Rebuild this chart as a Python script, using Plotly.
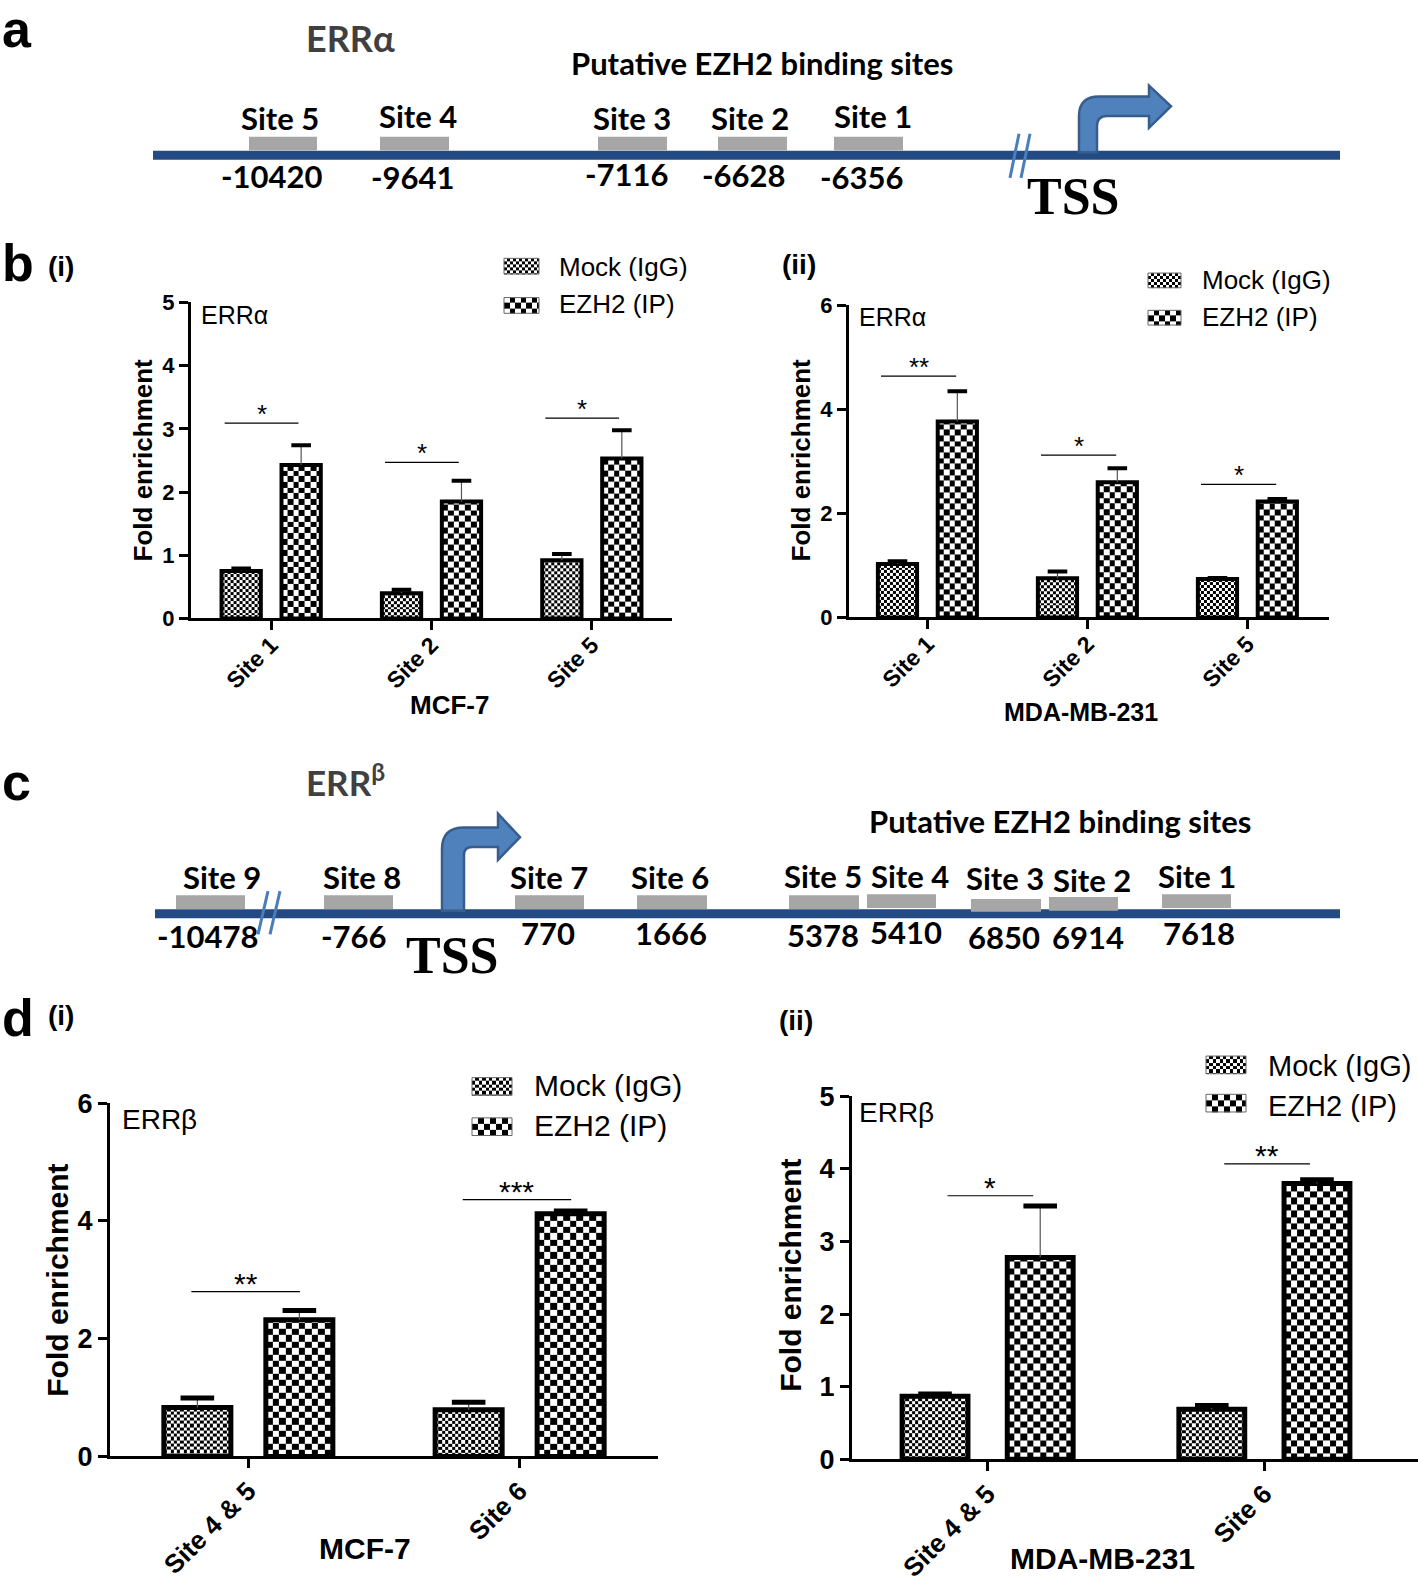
import numpy as np
import plotly.graph_objects as go

W, H = 1418, 1596
ARIAL = "Liberation Sans"
CAL = "Lato"
SERIF = "Liberation Serif"
LINE_BLUE = "#234a82"
BOX_GRAY = "#a6a6a6"
ARROW_FILL = "#4f81bd"
ARROW_EDGE = "#385d8a"

# ---------------- data ----------------
# Panel a (ERRalpha promoter)
erra_site_labels = ["Site 5", "Site 4", "Site 3", "Site 2", "Site 1"]
erra_site_coords = ["-10420", "-9641", "-7116", "-6628", "-6356"]
# Panel c (ERRbeta promoter)
errb_site_labels = ["Site 9", "Site 8", "Site 7", "Site 6", "Site 5",
                    "Site 4", "Site 3", "Site 2", "Site 1"]
errb_site_coords = ["-10478", "-766", "770", "1666", "5378",
                    "5410", "6850", "6914", "7618"]

series_names = ["Mock (IgG)", "EZH2 (IP)"]

# Panel b(i): MCF-7, ERRalpha
sites_b = ["Site 1", "Site 2", "Site 5"]
mcf7_b_mock = [0.75, 0.40, 0.92]
mcf7_b_mock_err = [0.04, 0.055, 0.10]
mcf7_b_ezh2 = [2.43, 1.85, 2.53]
mcf7_b_ezh2_err = [0.31, 0.33, 0.45]
mcf7_b_sig = [3.09, 2.47, 3.17]
mcf7_b_stars = ["*", "*", "*"]

# Panel b(ii): MDA-MB-231, ERRalpha
mda_b_mock = [1.03, 0.755, 0.74]
mda_b_mock_err = [0.05, 0.13, 0.02]
mda_b_ezh2 = [3.77, 2.60, 2.23]
mda_b_ezh2_err = [0.58, 0.27, 0.05]
mda_b_sig = [4.64, 3.12, 2.56]
mda_b_stars = ["**", "*", "*"]

# Panel d(i): MCF-7, ERRbeta
sites_d = ["Site 4 & 5", "Site 6"]
mcf7_d_mock = [0.83, 0.79]
mcf7_d_mock_err = [0.16, 0.13]
mcf7_d_ezh2 = [2.32, 4.12]
mcf7_d_ezh2_err = [0.16, 0.05]
mcf7_d_sig = [2.80, 4.36]
mcf7_d_stars = ["**", "***"]

# Panel d(ii): MDA-MB-231, ERRbeta
mda_d_mock = [0.87, 0.69]
mda_d_mock_err = [0.03, 0.05]
mda_d_ezh2 = [2.78, 3.80]
mda_d_ezh2_err = [0.71, 0.05]
mda_d_sig = [3.63, 4.07]
mda_d_stars = ["*", "**"]

# ---------------- helpers ----------------
def px(x, y):
    return x / W, 1 - y / H


def ann(text, x, y, size, family=ARIAL, bold=False, color="black",
        xanchor="center", yanchor="middle", angle=0):
    xp, yp = px(x, y)
    return dict(text=text, x=xp, y=yp, xref="paper", yref="paper",
                showarrow=False, textangle=angle,
                font=dict(family=family, size=size, color=color,
                          weight="bold" if bold else "normal"),
                xanchor=xanchor, yanchor=yanchor)


def checker(x0, x1, y0, y1, cx, cy, xa, ya):
    xs = list(np.arange(x0, x1, cx))
    if x1 - xs[-1] < cx * 0.15 and len(xs) > 1:
        xs = xs[:-1]
    xs.append(x1)
    ys = list(np.arange(y0, y1, cy))
    if y1 - ys[-1] < cy * 0.15 and len(ys) > 1:
        ys = ys[:-1]
    ys.append(y1)
    z = [[(i + j) % 2 for j in range(len(xs) - 1)] for i in range(len(ys) - 1)]
    return go.Heatmap(x=xs, y=ys, z=z, xaxis=xa, yaxis=ya,
                      colorscale=[[0, "white"], [1, "black"]], zmin=0, zmax=1,
                      showscale=False, hoverinfo="skip", zsmooth=False)


fig = go.Figure()
annotations = []
shapes = []

panels = [
    dict(k="", dom_x=(191, 672), dom_y=(293, 615), xr=(-0.5, 2.5), yr=(0, 5),
         yticks=[0, 1, 2, 3, 4, 5], cats=sites_b,
         mock=mcf7_b_mock, mock_err=mcf7_b_mock_err, ezh2=mcf7_b_ezh2,
         ezh2_err=mcf7_b_ezh2_err, sig=mcf7_b_sig, stars=mcf7_b_stars,
         off=0.187, w=0.245, lw=4, capw=14, capt=4, ce=5.8, cm=3.0,
         sl=-0.29, sr=0.17, tfs=22, xfs=23, sfs=26, sshift=-8, tls=-8),
    dict(k="2", dom_x=(849, 1329), dom_y=(296, 614), xr=(-0.49, 2.51), yr=(0, 6),
         yticks=[0, 2, 4, 6], cats=sites_b,
         mock=mda_b_mock, mock_err=mda_b_mock_err, ezh2=mda_b_ezh2,
         ezh2_err=mda_b_ezh2_err, sig=mda_b_sig, stars=mda_b_stars,
         off=0.187, w=0.245, lw=4, capw=14, capt=4, ce=5.8, cm=3.0,
         sl=-0.29, sr=0.18, tfs=22, xfs=23, sfs=26, sshift=-8, tls=-8),
    dict(k="3", dom_x=(110, 658), dom_y=(1109, 1469), xr=(-0.51, 1.51), yr=(0, 6),
         yticks=[0, 2, 4, 6], cats=sites_d,
         mock=mcf7_d_mock, mock_err=mcf7_d_mock_err, ezh2=mcf7_d_ezh2,
         ezh2_err=mcf7_d_ezh2_err, sig=mcf7_d_sig, stars=mcf7_d_stars,
         off=0.188, w=0.247, lw=5, capw=24, capt=5, ce=6.5, cm=3.3,
         sl=-0.21, sr=0.19, tfs=27, xfs=26, sfs=30, sshift=-10, tls=-3),
    dict(k="4", dom_x=(852, 1418), dom_y=(1102, 1472), xr=(-0.49, 1.555), yr=(0, 5),
         yticks=[0, 1, 2, 3, 4, 5], cats=sites_d,
         mock=mda_d_mock, mock_err=mda_d_mock_err, ezh2=mda_d_ezh2,
         ezh2_err=mda_d_ezh2_err, sig=mda_d_sig, stars=mda_d_stars,
         off=0.19, w=0.238, lw=5, capw=24, capt=5, ce=6.5, cm=3.3,
         sl=-0.145, sr=0.165, tfs=27, xfs=26, sfs=30, sshift=-10, tls=-3),
]

layout_axes = {}
for p in panels:
    k = p["k"]
    xa, ya = "x" + k, "y" + k
    ppx = (p["dom_x"][1] - p["dom_x"][0]) / (p["xr"][1] - p["xr"][0])
    ppy = (p["dom_y"][1] - p["dom_y"][0]) / (p["yr"][1] - p["yr"][0])
    n = len(p["cats"])
    idx = list(range(n))
    for vals, errs, sign, cell in ((p["mock"], p["mock_err"], -1, p["cm"]),
                                   (p["ezh2"], p["ezh2_err"], 1, p["ce"])):
        xs = [i + sign * p["off"] for i in idx]
        for xc, v in zip(xs, vals):
            fig.add_trace(checker(xc - p["w"] / 2, xc + p["w"] / 2, 0, v,
                                  cell / ppx, cell / ppy, xa, ya))
        fig.add_trace(go.Bar(x=xs, y=vals, width=p["w"], xaxis=xa, yaxis=ya,
                             marker=dict(color="rgba(0,0,0,0)",
                                         line=dict(color="black", width=p["lw"])),
                             error_y=dict(type="data", array=errs,
                                          arrayminus=[0] * n, symmetric=False,
                                          color="#555555", thickness=1.2, width=0),
                             showlegend=False, hoverinfo="skip"))
        fig.add_trace(go.Scatter(x=xs, y=[v + e for v, e in zip(vals, errs)],
                                 xaxis=xa, yaxis=ya, mode="markers",
                                 marker=dict(symbol="line-ew", size=p["capw"],
                                             color="black",
                                             line=dict(color="black", width=p["capt"])),
                                 showlegend=False, hoverinfo="skip"))
    # significance lines
    lx, ly = [], []
    for i, s in zip(idx, p["sig"]):
        lx += [i + p["sl"], i + p["sr"], None]
        ly += [s, s, None]
    fig.add_trace(go.Scatter(x=lx, y=ly, xaxis=xa, yaxis=ya, mode="lines",
                             line=dict(color="black", width=1.2),
                             showlegend=False, hoverinfo="skip"))
    for i, s, st in zip(idx, p["sig"], p["stars"]):
        annotations.append(dict(text=st, x=i + (p["sl"] + p["sr"]) / 2, y=s,
                                xref=xa, yref=ya, showarrow=False,
                                xanchor="center", yanchor="bottom", yshift=p["sshift"],
                                font=dict(family=ARIAL, size=p["sfs"], color="black")))
    axk = k if k else ""
    layout_axes["xaxis" + axk] = dict(
        domain=[p["dom_x"][0] / W, p["dom_x"][1] / W], range=list(p["xr"]),
        anchor=ya, tickvals=idx, ticktext=p["cats"], tickangle=-45,
        showline=True, linewidth=3, linecolor="black", ticks="outside",
        ticklen=9, tickwidth=3, tickcolor="black", showgrid=False, zeroline=False,
        ticklabelstandoff=p["tls"],
        tickfont=dict(family=ARIAL, size=p["xfs"], color="black", weight="bold"),
        fixedrange=True)
    layout_axes["yaxis" + axk] = dict(
        domain=[1 - p["dom_y"][1] / H, 1 - p["dom_y"][0] / H], range=list(p["yr"]),
        anchor=xa, tickvals=p["yticks"], showline=True, linewidth=3,
        linecolor="black", ticks="outside", ticklen=9, tickwidth=3,
        tickcolor="black", showgrid=False, zeroline=False,
        tickfont=dict(family=ARIAL, size=p["tfs"], color="black", weight="bold"),
        fixedrange=True)

# ---------------- canvas axis (pixel coordinates) ----------------
layout_axes["xaxis5"] = dict(domain=[0, 1], range=[0, W], visible=False,
                             anchor="y5", fixedrange=True)
layout_axes["yaxis5"] = dict(domain=[0, 1], range=[H, 0], visible=False,
                             anchor="x5", fixedrange=True)

# legends: swatch boxes + text
legends = [
    dict(sx=(504, 539), sy=[(248, 264), (288, 304)], tx=557, ty=[257, 295], fs=26, cm=3.0, ce=5.5),
    dict(sx=(1148, 1181), sy=[(263, 278), (301, 316)], tx=1200, ty=[270, 308], fs=26, cm=3.0, ce=5.5),
    dict(sx=(472, 512), sy=[(1083, 1101), (1124, 1142)], tx=532, ty=[1091, 1132], fs=30, cm=3.4, ce=6.0),
    dict(sx=(1206, 1246), sy=[(1061, 1079), (1100, 1118)], tx=1266, ty=[1071, 1112], fs=29, cm=3.4, ce=6.0),
]
for lg in legends:
    for j, name in enumerate(series_names):
        y0, y1 = lg["sy"][j]
        cell = lg["cm"] if j == 0 else lg["ce"]
        fig.add_trace(checker(lg["sx"][0], lg["sx"][1], y0, y1, cell, cell, "x5", "y5"))
        shapes.append(dict(type="rect", xref="x5", yref="y5", x0=lg["sx"][0], x1=lg["sx"][1],
                           y0=y0, y1=y1, line=dict(color="#666666", width=1)))
        annotations.append(ann(name, lg["tx"], lg["ty"][j], lg["fs"], xanchor="left"))

# ---------------- panel a diagram ----------------
a_line = dict(x0=153, x1=1340, y=143)
a_box_x = [(249, 317), (380, 449), (598, 667), (718, 787), (834, 903)]
a_box_y = (124, 138)
a_label_x = [280, 418, 632, 750, 873]
a_label_y = [105, 103, 105, 105, 103]
a_coord_x = [271, 412, 626, 743, 861]
a_coord_y = [164, 165, 162, 163, 165]

shapes.append(dict(type="line", xref="x5", yref="y5", x0=a_line["x0"], x1=a_line["x1"],
                   y0=a_line["y"], y1=a_line["y"], line=dict(color=LINE_BLUE, width=9)))
for (bx0, bx1), lab, lx_, ly_, crd, cx_, cy_ in zip(a_box_x, erra_site_labels, a_label_x,
                                                     a_label_y, erra_site_coords, a_coord_x, a_coord_y):
    shapes.append(dict(type="rect", xref="x5", yref="y5", x0=bx0, x1=bx1,
                       y0=a_box_y[0], y1=a_box_y[1], fillcolor=BOX_GRAY, line=dict(width=0)))
    annotations.append(ann(lab, lx_, ly_, 31, family=CAL, bold=True))
    annotations.append(ann(crd, cx_, cy_, 31, family=CAL, bold=True))
# break marks
for bx in (1010, 1021):
    shapes.append(dict(type="line", xref="x5", yref="y5", x0=bx, y0=166, x1=bx + 9, y1=121,
                       line=dict(color="#4a7ebb", width=3)))
# TSS arrow
shapes.append(dict(type="path", xref="x5", yref="y5",
                   path="M1079,140 L1079,103 Q1079,83 1099,83 L1149,83 L1149,72 L1171,93 "
                        "L1149,115 L1149,103 L1107,103 Q1097,103 1097,113 L1097,140 Z",
                   fillcolor=ARROW_FILL, line=dict(color=ARROW_EDGE, width=2.5)))
annotations.append(ann("TSS", 1073, 185, 52, family=SERIF, bold=True))
annotations.append(ann("ERRα", 350, 23, 36, family=CAL, bold=True, color="#404040"))
annotations.append(ann("Putative EZH2 binding sites", 762, 49, 31, family=CAL, bold=True))
annotations.append(ann("a", 0, 14, 52, bold=True, xanchor="left"))

# ---------------- panel c diagram ----------------
c_line = dict(x0=155, x1=1340, y=916)
c_box_x = [(176, 245), (324, 393), (515, 584), (637, 707), (789, 859),
           (867, 936), (971, 1041), (1049, 1118), (1162, 1231)]
c_box_y = [(897, 911), (897, 911), (897, 911), (897, 911), (897, 911),
           (896, 910), (901, 914), (899, 913), (896, 910)]
c_label_x = [222, 362, 549, 670, 823, 910, 1005, 1092, 1197]
c_label_y = [879, 879, 879, 879, 878, 878, 880, 882, 878]
c_coord_x = [207, 354, 548, 671, 823, 906, 1004, 1088, 1199]
c_coord_y = [939, 939, 936, 936, 938, 935, 940, 940, 936]

shapes.append(dict(type="line", xref="x5", yref="y5", x0=c_line["x0"], x1=c_line["x1"],
                   y0=c_line["y"], y1=c_line["y"], line=dict(color=LINE_BLUE, width=9)))
for (bx0, bx1), (by0, by1), lab, lx_, ly_, crd, cx_, cy_ in zip(
        c_box_x, c_box_y, errb_site_labels, c_label_x, c_label_y,
        errb_site_coords, c_coord_x, c_coord_y):
    shapes.append(dict(type="rect", xref="x5", yref="y5", x0=bx0, x1=bx1,
                       y0=by0, y1=by1, fillcolor=BOX_GRAY, line=dict(width=0)))
    annotations.append(ann(lab, lx_, ly_, 31, family=CAL, bold=True))
    annotations.append(ann(crd, cx_, cy_, 31, family=CAL, bold=True))
for bx in (258, 270):
    shapes.append(dict(type="line", xref="x5", yref="y5", x0=bx, y0=937, x1=bx + 10, y1=893,
                       line=dict(color="#4a7ebb", width=3)))
shapes.append(dict(type="path", xref="x5", yref="y5",
                   path="M442,913 L442,850 Q442,828 464,828 L498,828 L498,814 L520,838 "
                        "L498,861 L498,848 L472,848 Q464,848 464,856 L464,913 Z",
                   fillcolor=ARROW_FILL, line=dict(color=ARROW_EDGE, width=2.5)))
annotations.append(ann("TSS", 452, 959, 52, family=SERIF, bold=True))
annotations.append(ann("ERR<sup>β</sup>", 345, 780, 35, family=CAL, bold=True, color="#404040"))
annotations.append(ann("Putative EZH2 binding sites", 1060, 821, 31, family=CAL, bold=True))
annotations.append(ann("c", 0, 782, 52, bold=True, xanchor="left"))

# ---------------- chart labels ----------------
annotations += [
    ann("b", 0, 253, 52, bold=True, xanchor="left"),
    ann("(i)", 46, 256, 28, bold=True, xanchor="left"),
    ann("(ii)", 780, 254, 28, bold=True, xanchor="left"),
    ann("d", 0, 1022, 52, bold=True, xanchor="left"),
    ann("(i)", 46, 1020, 28, bold=True, xanchor="left"),
    ann("(ii)", 777, 1025, 28, bold=True, xanchor="left"),
    ann("Fold enrichment", 143, 454, 26, bold=True, angle=-90),
    ann("Fold enrichment", 801, 454, 26, bold=True, angle=-90),
    ann("Fold enrichment", 58, 1290, 30, bold=True, angle=-90),
    ann("Fold enrichment", 791, 1285, 30, bold=True, angle=-90),
    ann("MCF-7", 449, 703, 26, bold=True),
    ann("MDA-MB-231", 1081, 710, 25, bold=True),
    ann("MCF-7", 365, 1563, 30, bold=True),
    ann("MDA-MB-231", 1102, 1573, 30, bold=True),
    ann("ERRα", 199, 306, 25, xanchor="left"),
    ann("ERRα", 857, 308, 25, xanchor="left"),
    ann("ERRβ", 120, 1126, 28, xanchor="left"),
    ann("ERRβ", 857, 1119, 28, xanchor="left"),
]

fig.update_layout(
    width=W, height=H, margin=dict(l=0, r=0, t=0, b=0),
    paper_bgcolor="white", plot_bgcolor="rgba(0,0,0,0)",
    showlegend=False, barmode="overlay",
    annotations=annotations, shapes=shapes,
    **layout_axes,
)

fig.write_html("out.html",
               config={"displayModeBar": False},
               post_script="document.body.style.margin='0';"
                           "document.body.style.overflow='hidden';")
